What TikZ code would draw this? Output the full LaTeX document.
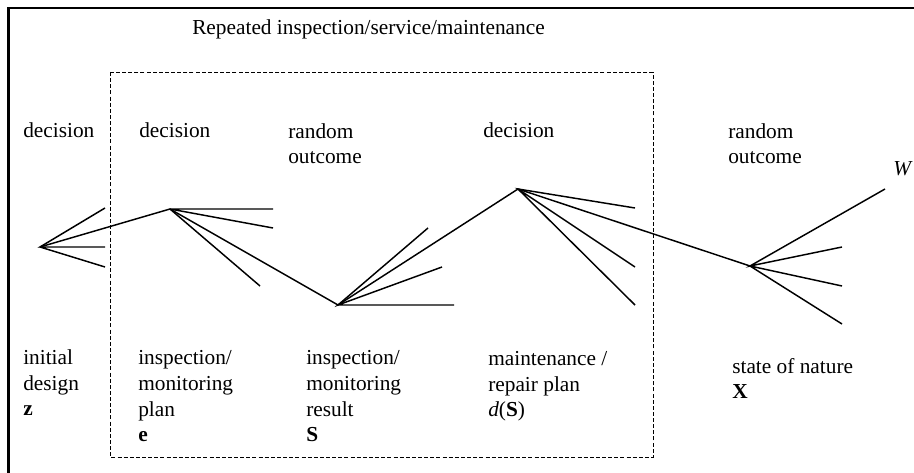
\documentclass[tikz,border=0pt]{standalone}
\usepackage{fontspec}
\setmainfont{Liberation Serif}
\usepackage{tikz}
\usetikzlibrary{positioning}

\begin{document}
\begin{tikzpicture}[
  x=0.75pt,y=-0.75pt,
  font=\fontsize{16}{19.3}\selectfont,
  lbl/.style={anchor=base west,inner sep=0pt,align=left},
  branch/.style={draw=black,line width=1.1pt},
  frame/.style={draw=black,line width=1.6pt},
  loopbox/.style={draw=black,line width=0.6pt,dash pattern=on 3pt off 1.6pt}
]
\useasboundingbox (0,0) rectangle (914,473);
\draw[frame] (8.5,473) -- (8.5,8) -- (914,8);
\draw[loopbox] (110,72) rectangle (653,457);

% tree vertices
\coordinate (z0) at (40,247);
\coordinate (d1) at (170,209);
\coordinate (r1) at (338,305);
\coordinate (d2) at (518,189);
\coordinate (r2) at (750,266);

% free ends of the fans
\coordinate (z0a) at (105,208);
\coordinate (z0b) at (105,247);
\coordinate (z0c) at (105,267);
\coordinate (d1a) at (273,209);
\coordinate (d1b) at (273,228);
\coordinate (d1c) at (260,286);
\coordinate (r1a) at (428,228);
\coordinate (r1b) at (442,267);
\coordinate (r1c) at (454,305);
\coordinate (d2a) at (635,208);
\coordinate (d2b) at (635,267);
\coordinate (d2c) at (635,305);
\coordinate (r2a) at (885,189);
\coordinate (r2b) at (842,247);
\coordinate (r2c) at (842,286);
\coordinate (r2d) at (842,324);

\draw[branch] (z0a) -- (z0) -- (z0b) (z0) -- (z0c);
\draw[branch] (d1a) -- (d1) -- (d1b) (d1) -- (d1c);
\draw[branch] (r1a) -- (r1) -- (r1b) (r1) -- (r1c);
\draw[branch] (d2a) -- (d2) -- (d2b) (d2) -- (d2c);
\draw[branch] (r2a) -- (r2) -- (r2b) (r2) -- (r2c) (r2) -- (r2d);
\draw[branch] (z0) -- (d1) -- (r1) -- (d2) -- (r2);

% labels (base = baseline of the last line)
\node[lbl] (title) at (192,35) {Repeated inspection/service/maintenance};
\node[lbl] (t0) at (23,138) {decision};
\node[lbl] (t1) at (139,138) {decision};
\node[lbl] (t2) at (288,164) {random\\outcome};
\node[lbl] (t3) at (483,138) {decision};
\node[lbl] (t4) at (728,164) {random\\outcome};
\node[lbl] (w) at (893,176) {\itshape W};

\node[lbl] (b0) at (23,416) {initial\\design\\\textbf{z}};
\node[lbl] (b1) at (138,442) {inspection/\\monitoring\\plan\\\textbf{e}};
\node[lbl] (b2) at (306,442) {inspection/\\monitoring\\result\\\textbf{S}};
\node[lbl] (b3) at (488,417) {maintenance /\\repair plan\\\textit{d}(\textbf{S})};
\node[lbl] (b4) at (732,399) {state of nature\\\textbf{X}};
\end{tikzpicture}
\end{document}
